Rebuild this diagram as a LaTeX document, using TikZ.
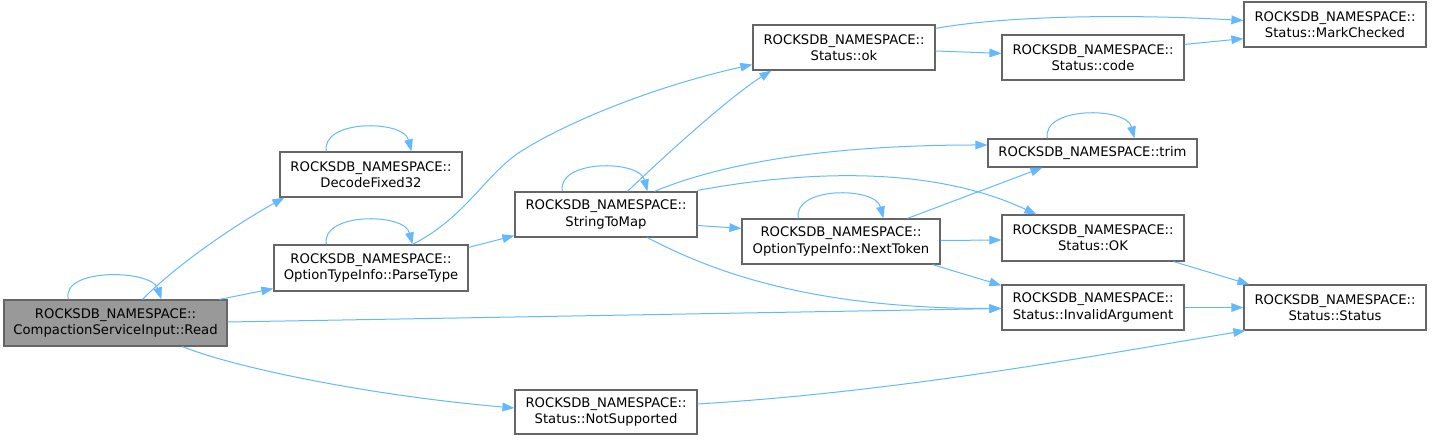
\documentclass[tikz,border=0pt]{standalone}
\usepackage{fontspec}
\setmainfont{DejaVu Sans}
\usetikzlibrary{arrows.meta,calc}
\definecolor{edgeblue}{HTML}{63B8FF}
\definecolor{boxline}{HTML}{666666}
\definecolor{readfill}{HTML}{999999}
\begin{document}
\begin{tikzpicture}[x=0.75pt,y=-0.75pt,
  box/.style={draw=boxline,line width=0.9pt,fill=white,inner sep=0pt,align=center,
    font=\fontsize{9.9}{12.2}\selectfont,minimum width=136.5pt,minimum height=33.75pt},
  edge/.style={draw=edgeblue,line width=0.75pt,-{Triangle[length=9pt,width=6.5pt]}}]
\useasboundingbox (0,0) rectangle (1432,441);
% nodes
\node[box,fill=readfill,minimum width=167.25pt,minimum height=34.5pt] (Read) at (115.5,323) {ROCKSDB\_NAMESPACE::\\CompactionServiceInput::Read};
\node[box] (Decode) at (371,174.5) {ROCKSDB\_NAMESPACE::\\DecodeFixed32};
\node[box,minimum width=145.5pt,minimum height=34.5pt] (Parse) at (371,268) {ROCKSDB\_NAMESPACE::\\OptionTypeInfo::ParseType};
\node[box] (S2M) at (606,214.5) {ROCKSDB\_NAMESPACE::\\StringToMap};
\node[box] (ok) at (844,47.5) {ROCKSDB\_NAMESPACE::\\Status::ok};
\node[box] (code) at (1093,57.5) {ROCKSDB\_NAMESPACE::\\Status::code};
\node[box] (Mark) at (1335,24.5) {ROCKSDB\_NAMESPACE::\\Status::MarkChecked};
\node[box,minimum width=156.75pt,minimum height=21pt] (trim) at (1092.5,153) {ROCKSDB\_NAMESPACE::trim};
\node[box,minimum width=148.5pt] (Next) at (841,241.5) {ROCKSDB\_NAMESPACE::\\OptionTypeInfo::NextToken};
\node[box,minimum height=34.5pt] (OK) at (1093,238) {ROCKSDB\_NAMESPACE::\\Status::OK};
\node[box] (Inv) at (1093,307.5) {ROCKSDB\_NAMESPACE::\\Status::InvalidArgument};
\node[box] (Stat) at (1335,307.5) {ROCKSDB\_NAMESPACE::\\Status::Status};
\node[box,minimum height=33pt] (NotS) at (606,412) {ROCKSDB\_NAMESPACE::\\Status::NotSupported};
\coordinate (w1) at (520,152);
% edges
\draw[edge] ($(Read.north west)+(65,0)$) .. controls +(-8,-32) and +(-10,-30) .. ($(Read.north west)+(158,0)$);
\draw[edge] ($(Read.north west)+(139,0)$) .. controls +(40,-40) and +(-40,22) .. ($(Decode.south west)+(5,0)$);
\draw[edge] ($(Read.north west)+(216,0)$) -- ($(Parse.south west)+(0,-3)$);
\draw[edge] ($(Read.east)+(0,-1)$) -- ($(Inv.west)+(0,1)$);
\draw[edge] ($(Read.south west)+(179,0)$) .. controls +(55,22) and +(-140,-12) .. ($(NotS.west)+(0,-4)$);
\draw[edge] ($(Decode.north west)+(47,0)$) .. controls +(-6,-32) and +(-8,-32) .. ($(Decode.north west)+(132,0)$);
\draw[edge] ($(Parse.north west)+(53,0)$) .. controls +(-6,-32) and +(-8,-32) .. ($(Parse.north west)+(139,0)$);
\draw[edge] ($(Parse.north east)+(0,3)$) -- ($(S2M.south west)+(0,-2)$);
\draw[edge] ($(Parse.north west)+(139,0)$) .. controls (465,218) and (485,175) .. (w1) .. controls (570,120) and (660,85) .. ($(ok.south west)+(0,-6)$);
\draw[edge] ($(S2M.north west)+(48,0)$) .. controls +(-6,-32) and +(-8,-32) .. ($(S2M.north west)+(133,0)$);
\draw[edge] ($(S2M.north west)+(113,0)$) .. controls +(42,-40) and +(-40,25) .. ($(ok.south west)+(19,0)$);
\draw[edge] ($(S2M.north west)+(140,0)$) .. controls +(65,-27) and +(-165,0) .. ($(trim.west)+(0,-8)$);
\draw[edge] ($(S2M.north east)+(0,-1)$) .. controls +(103,-19) and +(-107,-50) .. ($(OK.north west)+(35,0)$);
\draw[edge] ($(S2M.east)+(0,11)$) -- ($(Next.north west)+(0,10)$);
\draw[edge] ($(S2M.south west)+(133,0)$) .. controls +(72,38) and +(-182,0) .. ($(Inv.west)+(0,1)$);
\draw[edge] ($(Next.north west)+(57,0)$) .. controls +(-6,-32) and +(-8,-32) .. ($(Next.north west)+(142,0)$);
\draw[edge] ($(Next.north west)+(166,0)$) -- ($(trim.south west)+(55,0)$);
\draw[edge] ($(Next.east)+(0,-1)$) -- ($(OK.west)+(0,2)$);
\draw[edge] ($(Next.south east)+(-8,0)$) -- ($(Inv.north west)+(0,1)$);
\draw[edge] ($(ok.north east)+(0,4)$) .. controls +(66,-12) and +(-124,-7) .. ($(Mark.west)+(0,-4)$);
\draw[edge] ($(ok.east)+(0,3.5)$) -- ($(code.north west)+(0,19)$);
\draw[edge] ($(code.north east)+(0,10)$) -- ($(Mark.south west)+(0,-9)$);
\draw[edge] ($(trim.north west)+(60,0)$) .. controls +(-6,-32) and +(-8,-32) .. ($(trim.north west)+(147,0)$);
\draw[edge] ($(OK.south east)+(-11,0)$) -- ($(Stat.north west)+(6,0)$);
\draw[edge] (Inv.east) -- (Stat.west);
\draw[edge] ($(NotS.east)+(0,-8)$) .. controls +(200,-12) and +(-150,25) .. ($(Stat.south west)+(2,0)$);
\end{tikzpicture}
\end{document}
